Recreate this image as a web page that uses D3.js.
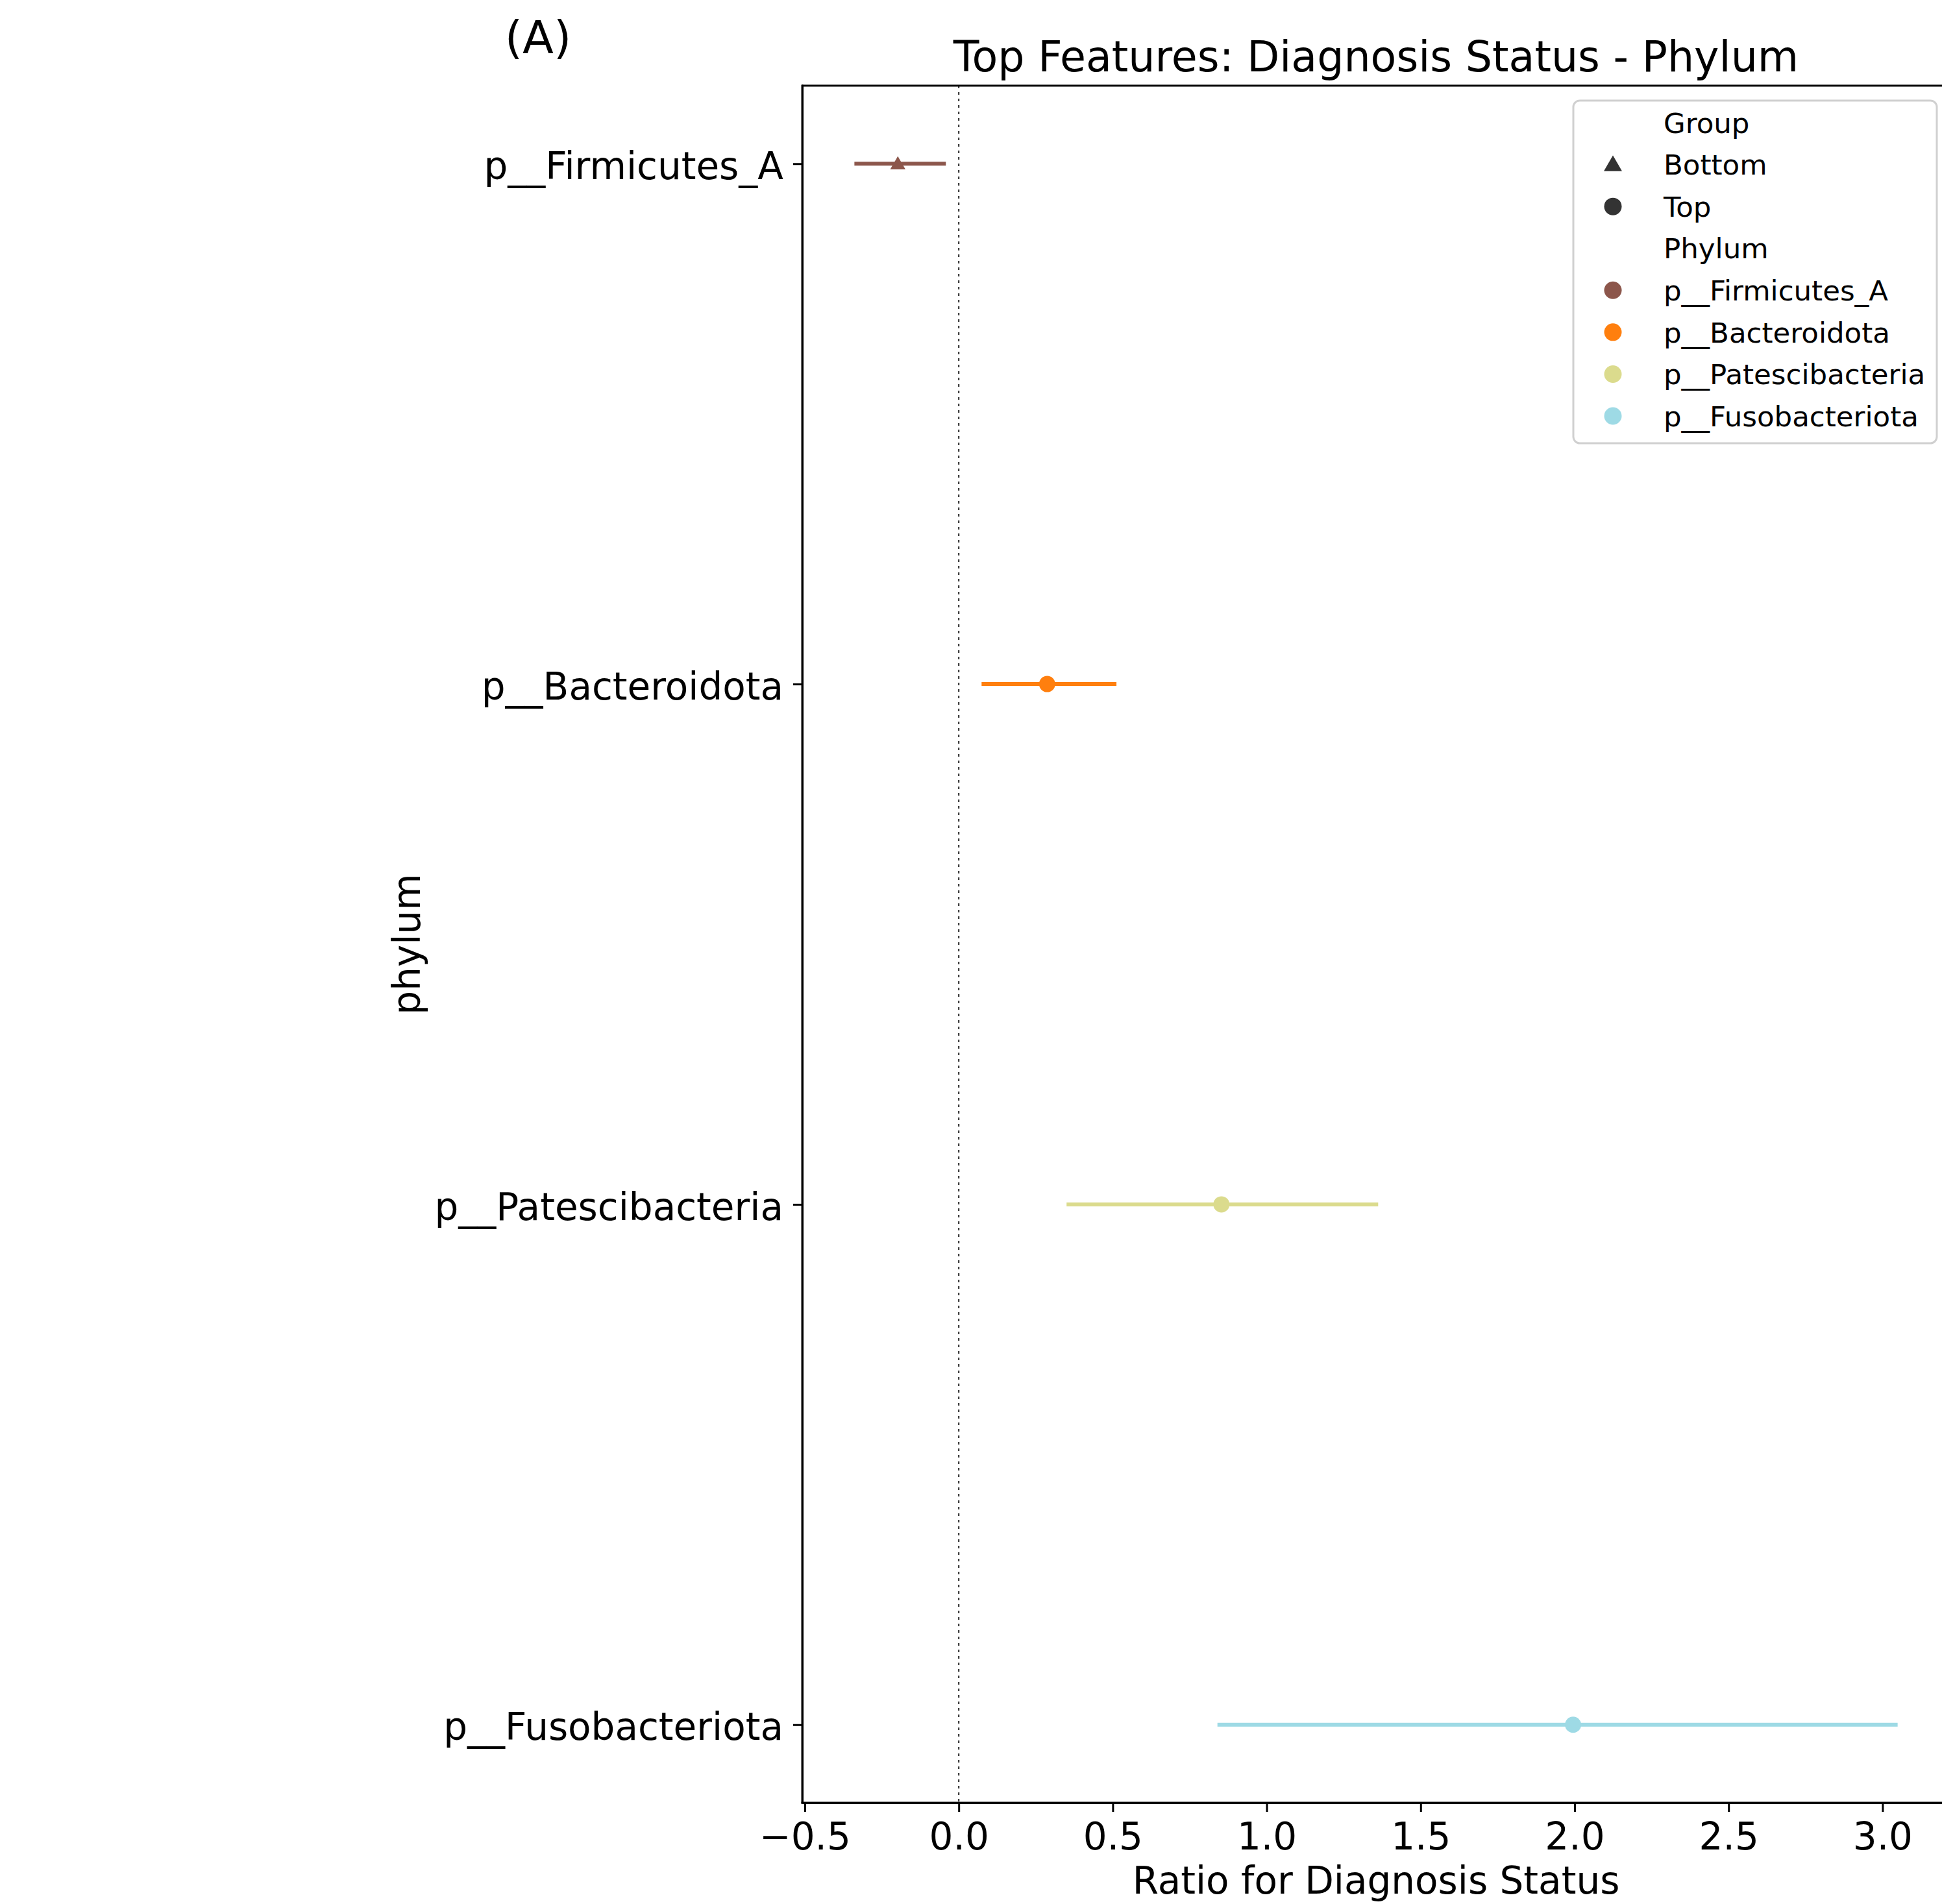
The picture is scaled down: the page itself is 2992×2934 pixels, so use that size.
<!DOCTYPE html>
<html>
<head>
<meta charset="utf-8">
<script src="https://cdn.jsdelivr.net/npm/d3@7"></script>
<style>
  html, body { margin: 0; padding: 0; background: #ffffff; }
  svg { display: block; font-family: "DejaVu Sans", sans-serif; }
</style>
</head>
<body>
<svg id="chart" width="2992" height="2934"></svg>
<script>
// ---- data ----
const categories = ["p__Firmicutes_A", "p__Bacteroidota", "p__Patescibacteria", "p__Fusobacteriota"];
const ratio = [-0.198, 0.287, 0.853, 1.995];
const lower = [-0.339, 0.074, 0.350, 0.840];
const upper = [-0.042, 0.512, 1.362, 3.049];
const groups = ["Bottom", "Top", "Top", "Top"];
const phylumColors = ["#8c564b", "#ff7f0e", "#dbdb8d", "#9edae5"];
const xTicks = [-0.5, 0.0, 0.5, 1.0, 1.5, 2.0, 2.5, 3.0];
const groupLegend = ["Bottom", "Top"];

const titleText = "Top Features: Diagnosis Status - Phylum";
const xLabel = "Ratio for Diagnosis Status";
const yLabel = "phylum";
const panelLabel = "(A)";

// ---- layout ----
const svg = d3.select("#chart");
const plot = { left: 1236, right: 3004, top: 132, bottom: 2778 };
const tickFont = 58;

const lo = d3.min(lower), hi = d3.max(upper), span = hi - lo;
const x = d3.scaleLinear().domain([lo - 0.05 * span, hi + 0.05 * span]).range([plot.left, plot.right]);
const y = d3.scalePoint().domain(categories).range([plot.top, plot.bottom]).padding(0.15);

const rows = categories.map((c, i) => ({ cat: c, r: ratio[i], lo: lower[i], hi: upper[i], g: groups[i], col: phylumColors[i] }));

// zero reference line
svg.append("line")
  .attr("x1", x(0)).attr("x2", x(0))
  .attr("y1", plot.top).attr("y2", plot.bottom)
  .attr("stroke", "#222").attr("stroke-width", 2)
  .attr("stroke-dasharray", "4,6");

// error bars
svg.append("g").selectAll("line").data(rows).join("line")
  .attr("x1", d => x(d.lo)).attr("x2", d => x(d.hi))
  .attr("y1", d => y(d.cat)).attr("y2", d => y(d.cat))
  .attr("stroke", d => d.col).attr("stroke-width", 6);

// points
const tri = d3.symbol(d3.symbolTriangle, 240);
const pts = svg.append("g");
rows.forEach(d => {
  if (d.g === "Bottom") {
    pts.append("path").attr("d", tri())
      .attr("transform", `translate(${x(d.r)},${y(d.cat) + 2})`)
      .attr("fill", d.col);
  } else {
    pts.append("circle").attr("cx", x(d.r)).attr("cy", y(d.cat)).attr("r", 12.5)
      .attr("fill", d.col);
  }
});

// axes
const xAxis = d3.axisBottom(x).tickValues(xTicks).tickFormat(d3.format(".1f"))
  .tickSize(14).tickSizeOuter(0).tickPadding(17);
const gx = svg.append("g").attr("transform", `translate(0,${plot.bottom})`).call(xAxis);
gx.selectAll("text").attr("font-size", tickFont).attr("fill", "#000").attr("font-family", "DejaVu Sans");

const yAxis = d3.axisLeft(y).tickSize(14).tickSizeOuter(0).tickPadding(15);
const gy = svg.append("g").attr("transform", `translate(${plot.left},0)`).call(yAxis);
gy.selectAll("text").attr("font-size", tickFont).attr("fill", "#000").attr("dy", "0.4em").attr("font-family", "DejaVu Sans");

[gx, gy].forEach(g => {
  g.select(".domain").attr("stroke", "#000").attr("stroke-width", 3);
  g.selectAll(".tick line").attr("stroke", "#000").attr("stroke-width", 3);
});
// spines
svg.append("line").attr("x1", plot.left).attr("x2", plot.right)
  .attr("y1", plot.top).attr("y2", plot.top).attr("stroke", "#000").attr("stroke-width", 3);
svg.append("line").attr("x1", plot.left).attr("x2", plot.left)
  .attr("y1", plot.top - 1.5).attr("y2", plot.bottom + 1.5).attr("stroke", "#000").attr("stroke-width", 3);
svg.append("line").attr("x1", plot.left - 1.5).attr("x2", plot.right)
  .attr("y1", plot.bottom).attr("y2", plot.bottom).attr("stroke", "#000").attr("stroke-width", 3);

// labels
svg.append("text").attr("x", (plot.left + plot.right) / 2).attr("y", 2918)
  .attr("text-anchor", "middle").attr("font-size", 58).text(xLabel);
svg.append("text")
  .attr("transform", `translate(647,${(plot.top + plot.bottom) / 2}) rotate(-90)`)
  .attr("text-anchor", "middle").attr("font-size", 58).text(yLabel);
svg.append("text").attr("x", (plot.left + plot.right) / 2).attr("y", 110)
  .attr("text-anchor", "middle").attr("font-size", 65).text(titleText);
svg.append("text").attr("x", 829).attr("y", 82)
  .attr("text-anchor", "middle").attr("font-size", 70).text(panelLabel);

// legend
const leg = svg.append("g");
leg.append("rect").attr("x", 2424).attr("y", 155).attr("width", 560).attr("height", 528)
  .attr("rx", 10).attr("fill", "#fff").attr("fill-opacity", 0.8)
  .attr("stroke", "#d0d0d0").attr("stroke-width", 3);
const legRows = [
  { label: "Group", type: "title" },
  ...groupLegend.map(g => ({ label: g, type: g === "Bottom" ? "tri" : "circ", col: "#333333" })),
  { label: "Phylum", type: "title" },
  ...categories.map((c, i) => ({ label: c, type: "circ", col: phylumColors[i] }))
];
const legY = d3.scalePoint().domain(d3.range(legRows.length)).range([189, 641]);
const legTri = d3.symbol(d3.symbolTriangle, 340);
legRows.forEach((d, i) => {
  const cy = legY(i);
  if (d.type === "tri") {
    leg.append("path").attr("d", legTri()).attr("transform", `translate(2485,${cy + 2})`).attr("fill", d.col);
  } else if (d.type === "circ") {
    leg.append("circle").attr("cx", 2485).attr("cy", cy).attr("r", 13.5).attr("fill", d.col);
  }
  leg.append("text").attr("x", 2563).attr("y", cy).attr("dy", "0.36em")
    .attr("font-size", 43.5).attr("fill", "#000").text(d.label);
});
</script>
</body>
</html>
